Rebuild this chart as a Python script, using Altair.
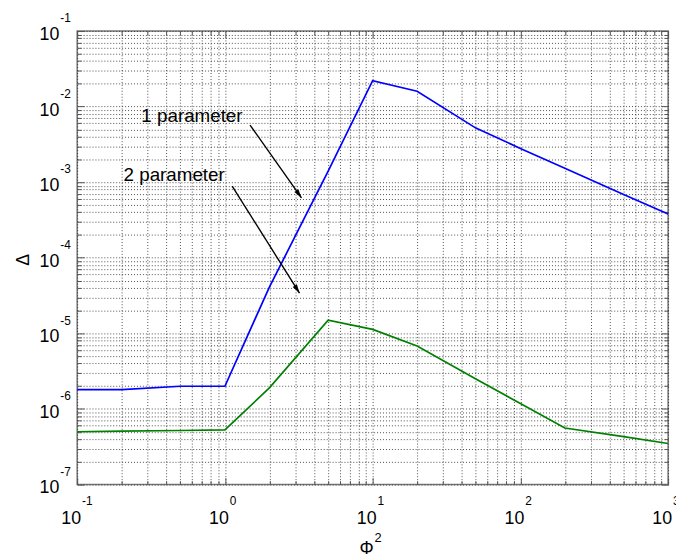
import altair as alt
import pandas as pd

# ---------------- data ----------------
PHI2 = [0.1, 0.2, 0.5, 1, 2, 5, 10, 20, 50, 100, 200, 500, 1000]
DELTA_1P = [1.8e-6, 1.8e-6, 2.0e-6, 2.0e-6, 4.1e-5, 1.4e-3, 2.2e-2, 1.6e-2,
            5.2e-3, 2.8e-3, 1.53e-3, 6.9e-4, 3.8e-4]
DELTA_2P = [5.0e-7, 5.1e-7, 5.2e-7, 5.3e-7, 1.9e-6, 1.5e-5, 1.13e-5, 6.8e-6,
            2.5e-6, 1.18e-6, 5.6e-7, 4.3e-7, 3.5e-7]
SERIES = ["1 parameter", "2 parameter"]
COLORS = ["#0000ff", "#008000"]

X_DECADES = [0.1, 1, 10, 100, 1000]
X_EXP = ["-1", "0", "1", "2", "3"]
Y_DECADES = [1e-7, 1e-6, 1e-5, 1e-4, 1e-3, 1e-2, 1e-1]
Y_EXP = ["-7", "-6", "-5", "-4", "-3", "-2", "-1"]

X_TICKS = [float(f"{m}e{e}") for e in range(-1, 3) for m in range(1, 10)] + [1000.0]
Y_TICKS = [float(f"{m}e{e}") for e in range(-7, -1) for m in range(1, 10)] + [0.1]

ANN_TEXT = ["1 parameter", "2 parameter"]
ANN_X = [0.272, 0.206]
ANN_Y = [6.27e-3, 1.03e-3]
ARR_X0 = [1.48, 1.12]
ARR_Y0 = [5.7e-3, 8.9e-4]
ARR_X1 = [3.3, 3.2]
ARR_Y1 = [6.2e-4, 3.4e-5]
ARR_ANGLE = [145, 148]

FONT = "Liberation Sans"
MAJOR = "abs(log(datum.value)/LN10 - round(log(datum.value)/LN10)) < 0.001"

x_scale = alt.Scale(type="log", domain=[0.1, 1000], nice=False)
y_scale = alt.Scale(type="log", domain=[1e-7, 1e-1], nice=False)


def make_axis(orient, values, grid):
    return alt.Axis(
        orient=orient, values=values, labels=False, title=None, domain=False,
        grid=grid, gridColor="#222222", gridOpacity=0.8, gridDash=[1, 2], gridWidth=1,
        ticks=True, tickSize=7, offset=-7, tickColor="#555555", tickWidth=1,
        tickDash={"condition": {"test": MAJOR, "value": [10, 1]}, "value": [0, 3, 4, 20]},
    )


n = len(PHI2)
df_lines = pd.DataFrame({
    "phi2": PHI2 * 2,
    "delta": DELTA_1P + DELTA_2P,
    "series": [SERIES[0]] * n + [SERIES[1]] * n,
})

lines = alt.Chart(df_lines).mark_line(strokeWidth=1.7).encode(
    x=alt.X("phi2:Q", scale=x_scale, axis=make_axis("bottom", X_TICKS, True)),
    y=alt.Y("delta:Q", scale=y_scale, axis=make_axis("left", Y_TICKS, True)),
    color=alt.Color("series:N", scale=alt.Scale(domain=SERIES, range=COLORS), legend=None),
)

df_ann = pd.DataFrame({
    "text": ANN_TEXT, "x": ANN_X, "y": ANN_Y,
    "x0": ARR_X0, "y0": ARR_Y0, "x1": ARR_X1, "y1": ARR_Y1, "ang": ARR_ANGLE,
})

ann_text = alt.Chart(df_ann).mark_text(
    align="left", baseline="alphabetic", font=FONT, fontSize=19, color="black"
).encode(
    x=alt.X("x:Q", scale=x_scale, axis=make_axis("top", X_TICKS, False)),
    y=alt.Y("y:Q", scale=y_scale, axis=make_axis("right", Y_TICKS, False)),
    text="text:N",
)

arrows = alt.Chart(df_ann).mark_rule(color="black", strokeWidth=1.4).encode(
    x=alt.X("x0:Q", scale=x_scale, axis=None),
    y=alt.Y("y0:Q", scale=y_scale, axis=None),
    x2="x1:Q", y2="y1:Q",
)

heads = alt.Chart(df_ann).mark_point(
    shape="M0,0L0.5,1.8L-0.5,1.8Z", filled=True, color="black", opacity=1, size=100
).encode(
    x=alt.X("x1:Q", scale=x_scale, axis=None),
    y=alt.Y("y1:Q", scale=y_scale, axis=None),
    angle=alt.Angle("ang:Q", scale=None),
)

df_xl = pd.DataFrame({"v": X_DECADES, "exp": X_EXP, "base": ["10"] * len(X_DECADES)})
df_yl = pd.DataFrame({"v": Y_DECADES, "exp": Y_EXP, "base": ["10"] * len(Y_DECADES)})

xl_base = alt.Chart(df_xl).mark_text(
    align="right", baseline="alphabetic", dx=4, dy=40, fontSize=18, font=FONT, color="black"
).encode(x=alt.X("v:Q", scale=x_scale, axis=None), y=alt.YDatum(1e-7, axis=None), text="base:N")
xl_exp = alt.Chart(df_xl).mark_text(
    align="left", baseline="alphabetic", dx=5, dy=21, fontSize=12, font=FONT, color="black"
).encode(x=alt.X("v:Q", scale=x_scale, axis=None), y=alt.YDatum(1e-7, axis=None), text="exp:N")

yl_base = alt.Chart(df_yl).mark_text(
    align="right", baseline="alphabetic", dx=-18, dy=9, fontSize=18, font=FONT, color="black"
).encode(x=alt.XDatum(0.1, axis=None), y=alt.Y("v:Q", scale=y_scale, axis=None), text="base:N")
yl_exp = alt.Chart(df_yl).mark_text(
    align="left", baseline="alphabetic", dx=-17, dy=-9, fontSize=12, font=FONT, color="black"
).encode(x=alt.XDatum(0.1, axis=None), y=alt.Y("v:Q", scale=y_scale, axis=None), text="exp:N")

df_one = pd.DataFrame({"t": ["Φ"], "s": ["2"], "d": ["Δ"]})
x_title = alt.Chart(df_one).mark_text(
    align="right", baseline="alphabetic", dx=1, dy=70, fontSize=18, font=FONT, color="black"
).encode(x=alt.XDatum(10, axis=None), y=alt.YDatum(1e-7, axis=None), text="t:N")
x_title_exp = alt.Chart(df_one).mark_text(
    align="left", baseline="alphabetic", dx=2, dy=58, fontSize=13, font=FONT, color="black"
).encode(x=alt.XDatum(10, axis=None), y=alt.YDatum(1e-7, axis=None), text="s:N")
y_title = alt.Chart(df_one).mark_text(
    align="center", baseline="middle", angle=270, dx=-2, dy=-54, fontSize=18, font=FONT, color="black"
).encode(x=alt.XDatum(0.1, axis=None), y=alt.YDatum(1e-4, axis=None), text="d:N")

chart = alt.layer(
    lines, ann_text, arrows, heads, xl_base, xl_exp, yl_base, yl_exp,
    x_title, x_title_exp, y_title,
).resolve_axis(
    x="independent", y="independent"
).properties(
    width=598, height=459,
    autosize=alt.AutoSizeParams(type="none"),
    padding={"left": 70, "top": 20, "right": 8, "bottom": 72},
    background="white",
).configure_view(
    stroke="#777777", strokeWidth=1.5
)

chart.save("out.html", embed_options={"renderer": "svg", "actions": False})
